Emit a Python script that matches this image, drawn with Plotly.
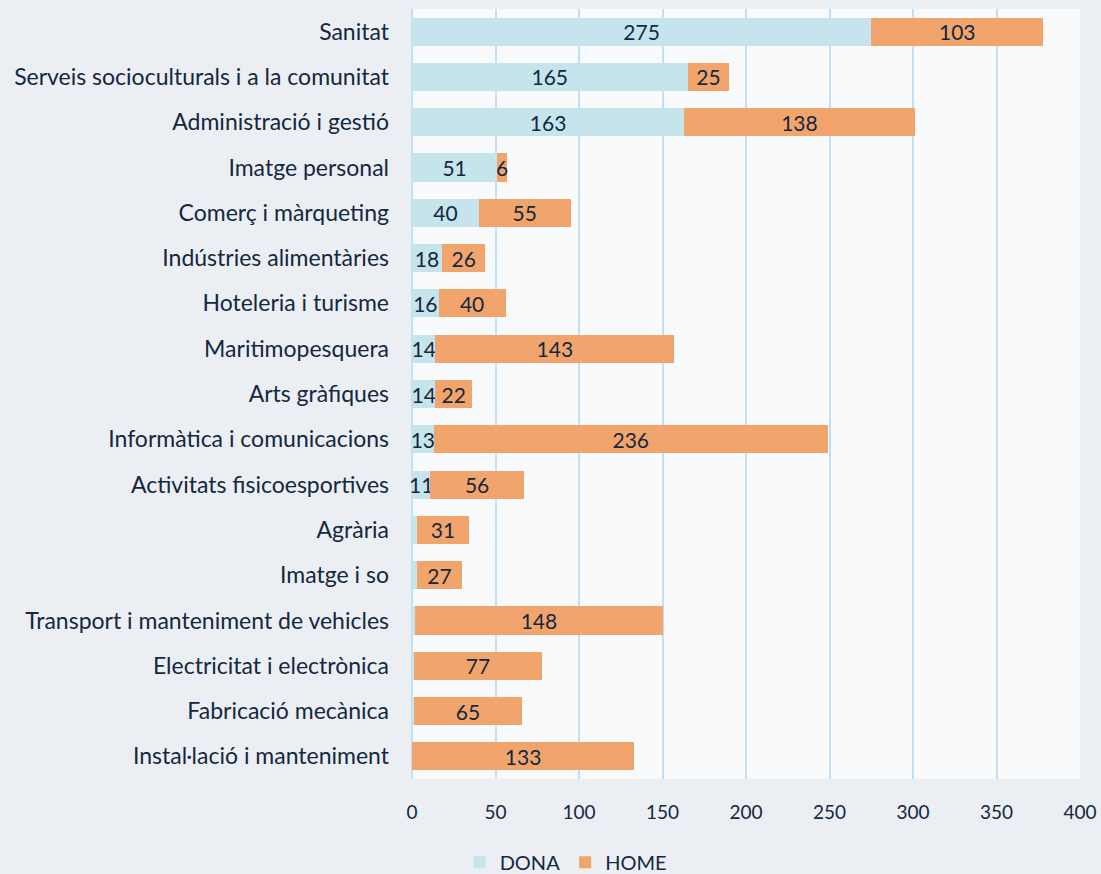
import plotly.graph_objects as go

categories = [
    "Sanitat",
    "Serveis socioculturals i a la comunitat",
    "Administració i gestió",
    "Imatge personal",
    "Comerç i màrqueting",
    "Indústries alimentàries",
    "Hoteleria i turisme",
    "Maritimopesquera",
    "Arts gràfiques",
    "Informàtica i comunicacions",
    "Activitats fisicoesportives",
    "Agrària",
    "Imatge i so",
    "Transport i manteniment de vehicles",
    "Electricitat i electrònica",
    "Fabricació mecànica",
    "Instal·lació i manteniment",
]
dona = [275, 165, 163, 51, 40, 18, 16, 14, 14, 13, 11, 3, 3, 2, 1, 1, 0]
home = [103, 25, 138, 6, 55, 26, 40, 143, 22, 236, 56, 31, 27, 148, 77, 65, 133]
x_ticks = [0, 50, 100, 150, 200, 250, 300, 350, 400]

FONT = "Lato"
TXT = "#14283f"


def labels(vals):
    return [str(v) if v >= 5 else "" for v in vals]


fig = go.Figure()
fig.add_trace(go.Bar(
    name="DONA", y=categories, x=dona, orientation="h",
    marker=dict(color="#c6e4eb", line=dict(width=0)),
    text=labels(dona), textposition="inside", insidetextanchor="middle",
    textangle=0, constraintext="none",
    textfont=dict(family=FONT, size=21, color=TXT), cliponaxis=False,
))
fig.add_trace(go.Bar(
    name="HOME", y=categories, x=home, orientation="h",
    marker=dict(color="#f1a56d", line=dict(width=0)),
    text=labels(home), textposition="inside", insidetextanchor="middle",
    textangle=0, constraintext="none",
    textfont=dict(family=FONT, size=21, color=TXT), cliponaxis=False,
))

fig.update_layout(
    width=1101, height=874,
    barmode="stack", bargap=0.38,
    margin=dict(l=412, r=21, t=9, b=95, autoexpand=False),
    paper_bgcolor="#ebeef3",
    plot_bgcolor="#f9fafc",
    font=dict(family=FONT, size=20, color=TXT),
    legend=dict(orientation="h", x=0.23, xanchor="center", y=-0.108, yanchor="middle",
                font=dict(family=FONT, size=20, color=TXT), bgcolor="rgba(0,0,0,0)",
                itemwidth=30, traceorder="normal"),
    showlegend=True,
)
fig.update_xaxes(range=[0, 400], tickvals=x_ticks, showgrid=True, gridcolor="#bfe0fb",
                 gridwidth=2, zeroline=True, zerolinecolor="#bfe0fb", zerolinewidth=2,
                 ticklabelstandoff=20, tickfont=dict(family=FONT, size=19, color=TXT),
                 showline=False, fixedrange=True, automargin=False)
fig.update_yaxes(categoryorder="array", categoryarray=categories, autorange="reversed",
                 ticklabelstandoff=22, tickfont=dict(family=FONT, size=23, color=TXT),
                 showgrid=False, fixedrange=True, automargin=False)

fig.write_html("out.html", config={"displayModeBar": False},
               post_script="document.body.style.margin='0';")
